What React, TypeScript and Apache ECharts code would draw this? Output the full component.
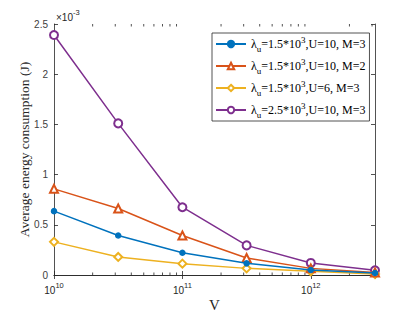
import React, { useEffect, useRef } from "react";
import * as echarts from "echarts";

const vValues = [1e10, 3.1623e10, 1e11, 3.1623e11, 1e12, 3.1623e12];
const blueSeries = [0.636, 0.394, 0.222, 0.116, 0.05, 0.02];
const orangeSeries = [0.858, 0.662, 0.394, 0.17, 0.066, 0.025];
const yellowSeries = [0.33, 0.18, 0.113, 0.066, 0.037, 0.01];
const purpleSeries = [2.39, 1.51, 0.675, 0.295, 0.12, 0.047];
const lambdaVals = ["1.5", "1.5", "1.5", "2.5"];
const uVals = ["10", "10", "6", "10"];
const mVals = ["3", "2", "3", "3"];
const yTicks = [0, 0.5, 1, 1.5, 2, 2.5];
const minorTickValues = [
  2e10, 3e10, 4e10, 5e10, 6e10, 7e10, 8e10, 9e10,
  2e11, 3e11, 4e11, 5e11, 6e11, 7e11, 8e11, 9e11,
  2e12, 3e12,
];

const colors = ["#0072BD", "#D95319", "#EDB120", "#7E2F8E"];
const symbols = ["circle", "emptyTriangle", "emptyDiamond", "emptyCircle"];
const symbolSizes = [5, 8, 8, 8];
const seriesData = [blueSeries, orangeSeries, yellowSeries, purpleSeries];

const names = lambdaVals.map(
  (l, i) => `L${l}_U${uVals[i]}_M${mVals[i]}_${i}`
);

const AX = "#262626";
const SANS = "Liberation Sans";
const SERIF = "Liberation Serif";

export default function App() {
  const ref = useRef<HTMLDivElement>(null);
  useEffect(() => {
    if (!ref.current) return;
    const chart = echarts.init(ref.current, undefined, { renderer: "svg" });
    const xMin = 1e10;
    const xMax = Math.pow(10, 12.5);
    const yMax = yTicks[yTicks.length - 1];

    const lineSeries = seriesData.map((arr, i) => ({
      name: names[i],
      type: "line",
      data: vValues.map((v, j) => [v, arr[j]]),
      symbol: symbols[i],
      symbolSize: symbolSizes[i],
      lineStyle: { color: colors[i], width: 1.5 },
      itemStyle: { color: colors[i], borderColor: colors[i], borderWidth: 1.5 },
      z: 3 + (3 - i),
    }));

    const option: any = {
      animation: false,
      backgroundColor: "#fff",
      grid: {
        left: 54,
        right: 40,
        top: 24,
        bottom: 37,
        containLabel: false,
        outerBoundsMode: "none",
      },
      xAxis: [
        {
          type: "log",
          logBase: 10,
          min: xMin,
          max: xMax,
          name: "V",
          nameLocation: "middle",
          nameGap: 22,
          nameMoveOverlap: false,
          nameTextStyle: { fontFamily: SERIF, fontSize: 15, color: AX },
          axisLine: { show: true, lineStyle: { color: AX, width: 0.8 } },
          axisTick: { show: true, inside: true, length: 4, lineStyle: { color: AX, width: 0.8 } },
          splitLine: { show: false },
          axisLabel: {
            showMaxLabel: false,
            margin: 6,
            formatter: (v: number) => {
              const e = Math.round(Math.log10(v));
              if (Math.abs(Math.log10(v) - e) > 1e-6) return "";
              return `{b|10}{s|${e}}`;
            },
            rich: {
              b: { fontFamily: SANS, fontSize: 10, color: AX, lineHeight: 14, verticalAlign: "bottom" },
              s: { fontFamily: SANS, fontSize: 7.5, color: AX, lineHeight: 14, verticalAlign: "top" },
            },
          },
        },
        {
          type: "log",
          logBase: 10,
          min: xMin,
          max: xMax,
          position: "top",
          axisLine: { show: true, lineStyle: { color: AX, width: 0.8 } },
          axisTick: { show: true, inside: true, length: 4, lineStyle: { color: AX, width: 0.8 } },
          axisLabel: { show: false },
          splitLine: { show: false },
        },
      ],
      yAxis: [
        {
          type: "value",
          min: 0,
          max: yMax,
          interval: 0.5,
          name: "Average energy consumption (J)",
          nameLocation: "middle",
          nameGap: 23,
          nameMoveOverlap: false,
          nameTextStyle: { fontFamily: SERIF, fontSize: 13.5, color: AX },
          axisLine: { show: true, lineStyle: { color: AX, width: 0.8 } },
          axisTick: { show: true, inside: true, length: 4, lineStyle: { color: AX, width: 0.8 } },
          splitLine: { show: false },
          axisLabel: {
            fontFamily: SANS,
            fontSize: 10,
            color: "#404040",
            margin: 6,
            formatter: (v: number) => String(v),
          },
        },
        {
          type: "value",
          min: 0,
          max: yMax,
          interval: 0.5,
          position: "right",
          axisLine: { show: true, lineStyle: { color: AX, width: 0.8 } },
          axisTick: { show: true, inside: true, length: 4, lineStyle: { color: AX, width: 0.8 } },
          axisLabel: { show: false },
          splitLine: { show: false },
        },
      ],
      legend: {
        data: names,
        orient: "vertical",
        left: 212,
        top: 33,
        itemWidth: 30,
        itemHeight: 8,
        itemGap: 4,
        padding: [2, 4, 2, 3],
        backgroundColor: "#fff",
        borderColor: AX,
        borderWidth: 0.8,
        borderRadius: 0,
        formatter: (name: string) => {
          const i = names.indexOf(name);
          return `{n|λ}{sub|u}{n|=${lambdaVals[i]}*10}{sup|3}{n|,U=${uVals[i]}, M=${mVals[i]}}`;
        },
        textStyle: {
          color: "#000",
          padding: [0, 0, 0, 0],
          rich: {
            n: { fontFamily: SERIF, fontSize: 12, color: "#000", lineHeight: 18 },
            sub: { fontFamily: SERIF, fontSize: 9, color: "#000", lineHeight: 18, verticalAlign: "bottom" },
            sup: { fontFamily: SERIF, fontSize: 9, color: "#000", lineHeight: 18, verticalAlign: "top" },
          },
        },
      },
      graphic: [
        {
          type: "text",
          left: 56,
          top: 8,
          style: {
            text: "{a|×10}{b|-3}",
            rich: {
              a: { fontFamily: SANS, fontSize: 10, fill: AX, lineHeight: 14, verticalAlign: "bottom" },
              b: { fontFamily: SANS, fontSize: 7.5, fill: AX, lineHeight: 14, verticalAlign: "top" },
            },
          },
        },
      ],
      series: [
        ...lineSeries,
        {
          type: "custom",
          silent: true,
          data: minorTickValues.map((v) => [v, 0]),
          encode: { x: 0, y: 1 },
          z: 1,
          renderItem: (params: any, api: any) => {
            const x = api.value(0);
            const b = api.coord([x, 0]);
            const t = api.coord([x, yMax]);
            const style = { stroke: AX, lineWidth: 0.8 };
            return {
              type: "group",
              children: [
                { type: "line", shape: { x1: b[0], y1: b[1], x2: b[0], y2: b[1] - 2.5 }, style },
                { type: "line", shape: { x1: t[0], y1: t[1], x2: t[0], y2: t[1] + 2.5 }, style },
              ],
            };
          },
        },
      ],
    };
    chart.setOption(option);
    return () => chart.dispose();
  }, []);
  return (
    <div
      ref={ref}
      style={{ position: "absolute", left: 0, top: 0, width: 415, height: 312 }}
    />
  );
}
